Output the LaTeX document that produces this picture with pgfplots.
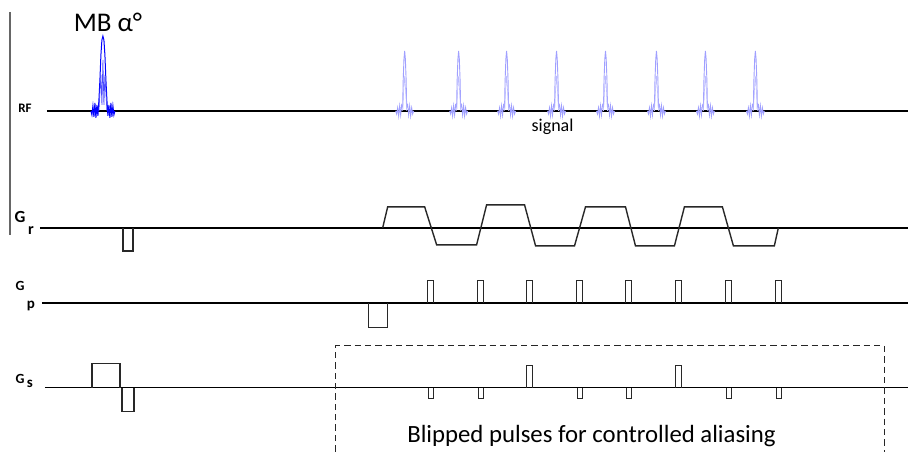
\documentclass[border=0pt]{standalone}
\usepackage{pgfplots}
\pgfplotsset{compat=1.18}
\usepackage{pgfplotstable}
\usepackage{fontspec}
\setmainfont{Carlito}
\definecolor{echoblue}{RGB}{160,160,255}
\definecolor{grad}{RGB}{40,40,40}
\pgfplotstableread{
dx dy
-9 0
-8 3
-7 -3
-6 5
-5 -5
-4 4
-3 -6
-2 -4
-1.5 -30
-0.7 -52
0 -60
0.7 -52
1.5 -30
2 -4
3 -6
4 4
5 -5
6 5
7 -3
8 3
9 0
}\echo
\pgfplotstableread{
dx dy
-2 0
-1 -20
0 -35
1 -20
2 0
}\echoin
\begin{document}
\begin{tikzpicture}
\begin{axis}[
  hide axis, scale only axis, width=454.5pt, height=226pt,
  xmin=0, xmax=909, ymin=0, ymax=452, y dir=reverse,
  clip=false,
]
\path (rel axis cs:0,0) rectangle (rel axis cs:1,1);
% left vertical rule
\addplot[gray!80!black, line width=0.6pt] coordinates {(10,12)(10,235)};
% baselines
\addplot[black, line width=0.75pt] coordinates {(47,111)(909,111)};
\addplot[black, line width=0.75pt] coordinates {(40,228)(909,228)};
\addplot[black, line width=0.75pt] coordinates {(42,303)(909,303)};
\addplot[black, line width=0.75pt] coordinates {(45,388)(909,388)};
% RF pulse
\addplot[blue, line width=0.5pt] coordinates {
(91,111)(92,115)(93,106)(94,117)(95,103)(96,118)(97,105)(98,116)(99,100)(100,80)(101,55)(102,40)(103,36)(104,40)(105,55)(106,80)(107,100)(108,116)(109,105)(110,118)(111,103)(112,117)(113,106)(114,115)(115,111)};
\addplot[blue!70, line width=0.35pt] coordinates {(99,111)(101,75)(102,105)(103,60)(104,105)(105,75)(107,111)};
% echoes
\pgfplotsinvokeforeach{405,459,507,557,606,657,706,756}{
  \addplot[echoblue, line width=0.45pt] table[x expr=\thisrow{dx}+#1, y expr=\thisrow{dy}+111] {\echo};
  \addplot[echoblue!70, line width=0.3pt] table[x expr=\thisrow{dx}+#1, y expr=\thisrow{dy}+111] {\echoin};
}
% Gr
\addplot[grad, line width=0.7pt] coordinates {(123,228)(123,251)(133,251)(133,228)};
\addplot[grad, line width=0.7pt] coordinates {(383,228)(388,207)(425,207)(437,245)(477,245)(487,205)(525,205)(536,246)(575,246)(586,207)(626,207)(636,246)(675,246)(685,207)(723,207)(734,246)(775,246)(779,228)};
% Gp
\addplot[grad, line width=0.7pt] coordinates {(369,303)(369,328)(388,328)(388,303)};
\addplot[grad, line width=0.7pt] coordinates {(428,303)(428,281)(434,281)(434,303)};
\addplot[grad, line width=0.7pt] coordinates {(478,303)(478,281)(484,281)(484,303)};
\addplot[grad, line width=0.7pt] coordinates {(527,303)(527,281)(533,281)(533,303)};
\addplot[grad, line width=0.7pt] coordinates {(577,303)(577,281)(583,281)(583,303)};
\addplot[grad, line width=0.7pt] coordinates {(626,303)(626,281)(632,281)(632,303)};
\addplot[grad, line width=0.7pt] coordinates {(676,303)(676,281)(682,281)(682,303)};
\addplot[grad, line width=0.7pt] coordinates {(726,303)(726,281)(732,281)(732,303)};
\addplot[grad, line width=0.7pt] coordinates {(776,303)(776,281)(782,281)(782,303)};
% Gs
\addplot[grad, line width=0.7pt] coordinates {(92,388)(92,364)(120,364)(120,388)};
\addplot[grad, line width=0.7pt] coordinates {(122,388)(122,412)(134,412)(134,388)};
\addplot[grad, line width=0.7pt] coordinates {(429,388)(429,399)(434,399)(434,388)};
\addplot[grad, line width=0.7pt] coordinates {(479,388)(479,399)(484,399)(484,388)};
\addplot[grad, line width=0.7pt] coordinates {(527,388)(527,366)(533,366)(533,388)};
\addplot[grad, line width=0.7pt] coordinates {(578,388)(578,399)(583,399)(583,388)};
\addplot[grad, line width=0.7pt] coordinates {(627,388)(627,399)(632,399)(632,388)};
\addplot[grad, line width=0.7pt] coordinates {(676,388)(676,366)(682,366)(682,388)};
\addplot[grad, line width=0.7pt] coordinates {(727,388)(727,399)(732,399)(732,388)};
\addplot[grad, line width=0.7pt] coordinates {(777,388)(777,399)(782,399)(782,388)};
% dashed box
\addplot[gray!30!black, line width=0.75pt, dash pattern=on 3.2pt off 2pt] coordinates {(336,452)(336,346)(885,346)(885,452)};
% labels
\node[font=\fontsize{13.5}{14}\selectfont, anchor=base] at (axis cs:108,32) {MB α°};
\node[font=\bfseries\fontsize{6.5}{7}\selectfont, anchor=base] at (axis cs:25,113) {RF};
\node[font=\fontsize{9}{10}\selectfont, anchor=base] at (axis cs:553,132) {signal};
\node[font=\bfseries\fontsize{8.5}{9}\selectfont, anchor=base] at (axis cs:20,223) {G};
\node[font=\bfseries\fontsize{8}{9}\selectfont, anchor=base] at (axis cs:31,235) {r};
\node[font=\bfseries\fontsize{7}{8}\selectfont, anchor=base] at (axis cs:20,291) {G};
\node[font=\bfseries\fontsize{7.5}{8}\selectfont, anchor=base] at (axis cs:31,309) {p};
\node[font=\bfseries\fontsize{7}{8}\selectfont, anchor=base] at (axis cs:20,384) {G};
\node[font=\bfseries\fontsize{7.5}{8}\selectfont, anchor=base] at (axis cs:30,388) {s};
\node[font=\fontsize{12.4}{14}\selectfont, anchor=base] at (axis cs:592,443) {Blipped pulses for controlled aliasing};
\end{axis}
\end{tikzpicture}
\end{document}
